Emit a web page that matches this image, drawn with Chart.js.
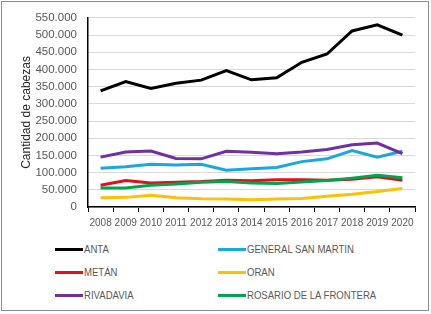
<!DOCTYPE html>
<html>
<head>
<meta charset="utf-8">
<script src="https://cdn.jsdelivr.net/npm/chart.js@4"></script>
<style>
  body { margin: 0; background: #fff; font-family: "Liberation Sans", Arial, sans-serif; }
  #wrap { position: relative; width: 431px; height: 314px; overflow: hidden; }
  #frame { position: absolute; left: 1px; top: 1px; width: 426px; height: 308px; border: 1.5px solid #8c8c8c; }
  #chart { position: absolute; left: 0; top: 0; }
  .leg { position: absolute; font-size: 11px; color: #595959; height: 14px; line-height: 14px; white-space: nowrap; }
  .leg i { position: absolute; left: 0; top: 6px; width: 28px; height: 3px; }
  .leg span { position: absolute; left: 29px; top: 0; transform: scaleX(0.87); transform-origin: 0 50%; }
</style>
</head>
<body>
<div id="wrap">
  <canvas id="chart" width="431" height="235"></canvas>
  <div id="legend"></div>
  <div id="frame"></div>
</div>
<script>
// years on the x axis
const years = ['2008','2009','2010','2011','2012','2013','2014','2015','2016','2017','2018','2019','2020'];

// head counts per department
const anta      = [338000, 365000, 345000, 360000, 369000, 397000, 370000, 376000, 421000, 445000, 512000, 530000, 500000];
const sanMartin = [113000, 117000, 124000, 122000, 124000, 107000, 111000, 115000, 132000, 140000, 164000, 145000, 162000];
const metan     = [63000, 77000, 70000, 72000, 74000, 78000, 76000, 79000, 79000, 78000, 81000, 88000, 78000];
const oran      = [27000, 28000, 34000, 27000, 24000, 23000, 21000, 23000, 25000, 31000, 37000, 45000, 54000];
const rivadavia = [145000, 160000, 163000, 141000, 140000, 162000, 159000, 155000, 160000, 167000, 181000, 186000, 155000];
const rosario   = [55000, 55000, 63000, 67000, 72000, 74000, 70000, 68000, 73000, 77000, 84000, 92000, 85000];

const seriesNames  = ['ANTA', 'GENERAL SAN MARTIN', 'METÁN', 'ORAN', 'RIVADAVIA', 'ROSARIO DE LA FRONTERA'];
const seriesData   = [anta, sanMartin, metan, oran, rivadavia, rosario];
const seriesColors = ['#000000', '#1aa7e0', '#e3101b', '#ffc000', '#7030a0', '#00a550'];

const yTicks = [0, 50000, 100000, 150000, 200000, 250000, 300000, 350000, 400000, 450000, 500000, 550000];

function fmt(v) {
  if (v === 0) return '0';
  return Math.round(v / 1000) + '.000';
}

const ctx = document.getElementById('chart').getContext('2d');

new Chart(ctx, {
  type: 'line',
  data: {
    labels: years,
    datasets: seriesNames.map((name, i) => ({
      label: name,
      data: seriesData[i],
      borderColor: seriesColors[i],
      backgroundColor: seriesColors[i],
      borderWidth: 3,
      pointRadius: 0,
      tension: 0,
      fill: false
    })).reverse()
  },
  options: {
    responsive: false,
    animation: false,
    events: [],
    layout: { padding: { left: 0, right: 16, top: 15, bottom: 0 } },
    plugins: { legend: { display: false }, tooltip: { enabled: false } },
    scales: {
      x: {
        offset: true,
        grid: { drawOnChartArea: false, drawTicks: true, tickLength: 5, color: '#000', offset: true },
        border: { color: '#000', width: 1.5 },
        ticks: {
          autoSkip: false, maxRotation: 0, minRotation: 0, padding: 5,
          color: '#595959', font: { family: 'Liberation Sans', size: 10 }
        },
        afterFit: s => { s.height = 28; }
      },
      y: {
        min: 0, max: 550000,
        afterBuildTicks: s => { s.ticks = yTicks.map(v => ({ value: v })); },
        grid: { color: '#d9d9d9', drawTicks: false, lineWidth: 1 },
        border: { color: '#000', width: 1.5 },
        ticks: {
          padding: 11, color: '#595959',
          font: { family: 'Liberation Sans', size: 11.5 },
          callback: v => fmt(v)
        },
        title: {
          display: true, text: 'Cantidad de cabezas', color: '#262626',
          font: { family: 'Liberation Sans', size: 12 },
          padding: { top: 19, bottom: 0 }
        },
        afterFit: s => { s.width = 88; }
      }
    }
  }
});

// two-column legend under the chart
const legend = document.getElementById('legend');
const legCols = [55, 218];
const legRows = [242, 264.5, 287.5];
seriesNames.forEach((name, i) => {
  const d = document.createElement('div');
  d.className = 'leg';
  d.style.left = legCols[i % 2] + 'px';
  d.style.top = legRows[Math.floor(i / 2)] + 'px';
  d.innerHTML = '<i style="background:' + seriesColors[i] + '"></i><span>' + name + '</span>';
  legend.appendChild(d);
});
</script>
</body>
</html>
